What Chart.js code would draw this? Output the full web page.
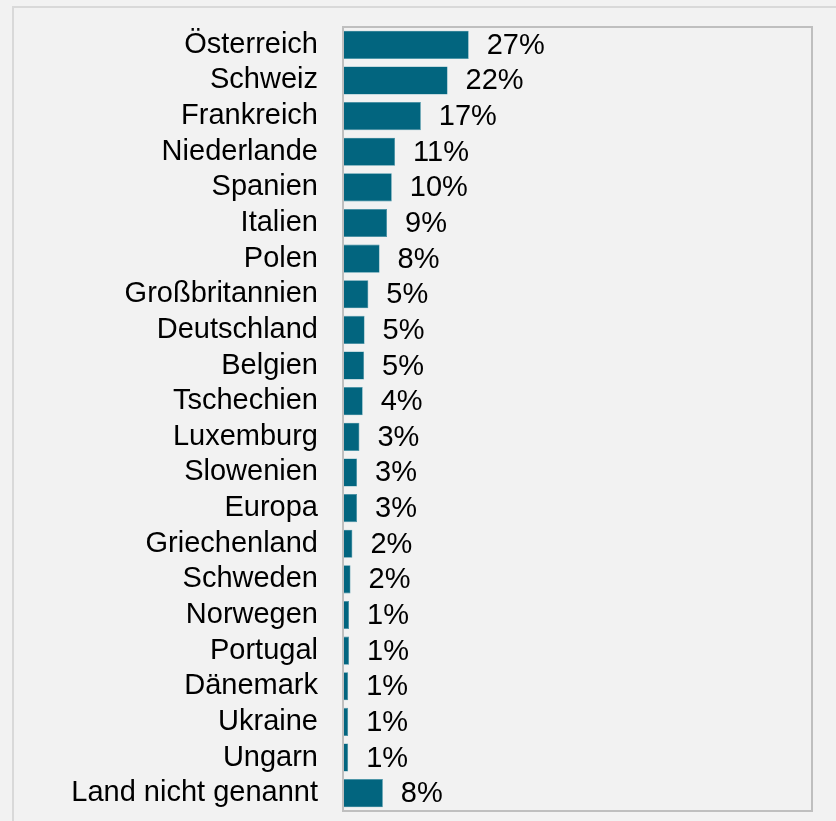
<!DOCTYPE html>
<html>
<head>
<meta charset="utf-8">
<script src="https://cdn.jsdelivr.net/npm/chart.js@4/dist/chart.umd.min.js"></script>
<style>
  html, body { margin: 0; padding: 0; background: #f2f2f2; }
  #wrap { width: 836px; height: 821px; position: relative; }
</style>
</head>
<body>
<div id="wrap"><canvas id="countryChart"></canvas></div>
<script>
const countries = [
    "Österreich", "Schweiz", "Frankreich", "Niederlande", "Spanien", "Italien",
    "Polen", "Großbritannien", "Deutschland", "Belgien", "Tschechien", "Luxemburg",
    "Slowenien", "Europa", "Griechenland", "Schweden", "Norwegen", "Portugal",
    "Dänemark", "Ukraine", "Ungarn", "Land nicht genannt"
];
const shares = [
    26.8, 22.3, 16.6, 11.1, 10.4, 9.4,
    7.8, 5.4, 4.6, 4.5, 4.2, 3.5,
    3.0, 3.0, 2.0, 1.6, 1.3, 1.3,
    1.1, 1.1, 1.1, 8.5
];
const shareLabels = [
    "27%", "22%", "17%", "11%", "10%", "9%",
    "8%", "5%", "5%", "5%", "4%", "3%",
    "3%", "3%", "2%", "2%", "1%", "1%",
    "1%", "1%", "1%", "8%"
];

const FONT = "'Liberation Sans', Arial, sans-serif";
const FONT_SIZE = 29;

// outer frame and plot border
const framePlugin = {
    id: "frame",
    beforeDraw(chart) {
        const c = chart.ctx;
        c.save();
        c.strokeStyle = "#d9d9d9";
        c.lineWidth = 2;
        c.beginPath();
        c.moveTo(13, chart.height + 5);
        c.lineTo(13, 7);
        c.lineTo(chart.width + 5, 7);
        c.stroke();
        c.restore();
    },
    afterDraw(chart) {
        const a = chart.chartArea;
        const c = chart.ctx;
        c.save();
        c.strokeStyle = "#bfbfbf";
        c.lineWidth = 2;
        c.strokeRect(a.left, a.top, a.right - a.left, a.bottom - a.top);
        c.restore();
    }
};

// percent text next to each bar
const valueLabels = {
    id: "valueLabels",
    afterDatasetsDraw(chart) {
        const c = chart.ctx;
        const meta = chart.getDatasetMeta(0);
        c.save();
        c.font = FONT_SIZE + "px " + FONT;
        c.fillStyle = "#000000";
        c.textAlign = "left";
        c.textBaseline = "middle";
        meta.data.forEach((bar, i) => {
            c.fillText(shareLabels[i], bar.x + 18, bar.y + 1);
        });
        c.restore();
    }
};

new Chart(document.getElementById("countryChart"), {
    type: "bar",
    data: {
        labels: countries,
        datasets: [{
            data: shares,
            backgroundColor: "#02657f",
            borderColor: "#3d8ea3",
            borderWidth: 0.6,
            barPercentage: 0.79,
            categoryPercentage: 1
        }]
    },
    options: {
        indexAxis: "y",
        responsive: true,
        maintainAspectRatio: false,
        animation: false,
        layout: {
            padding: { top: 27, right: 24, bottom: 10, left: 0 }
        },
        plugins: {
            legend: { display: false },
            tooltip: { enabled: false }
        },
        scales: {
            x: {
                display: false,
                min: 0,
                max: 100
            },
            y: {
                afterFit(scale) {
                    scale.width = 343;
                    scale.paddingTop = 0;
                    scale.paddingBottom = 0;
                },
                grid: { display: false, drawTicks: false },
                border: { display: false },
                ticks: {
                    autoSkip: false,
                    color: "#000000",
                    padding: 25,
                    font: { family: FONT, size: FONT_SIZE }
                }
            }
        }
    },
    plugins: [framePlugin, valueLabels]
});
</script>
</body>
</html>
